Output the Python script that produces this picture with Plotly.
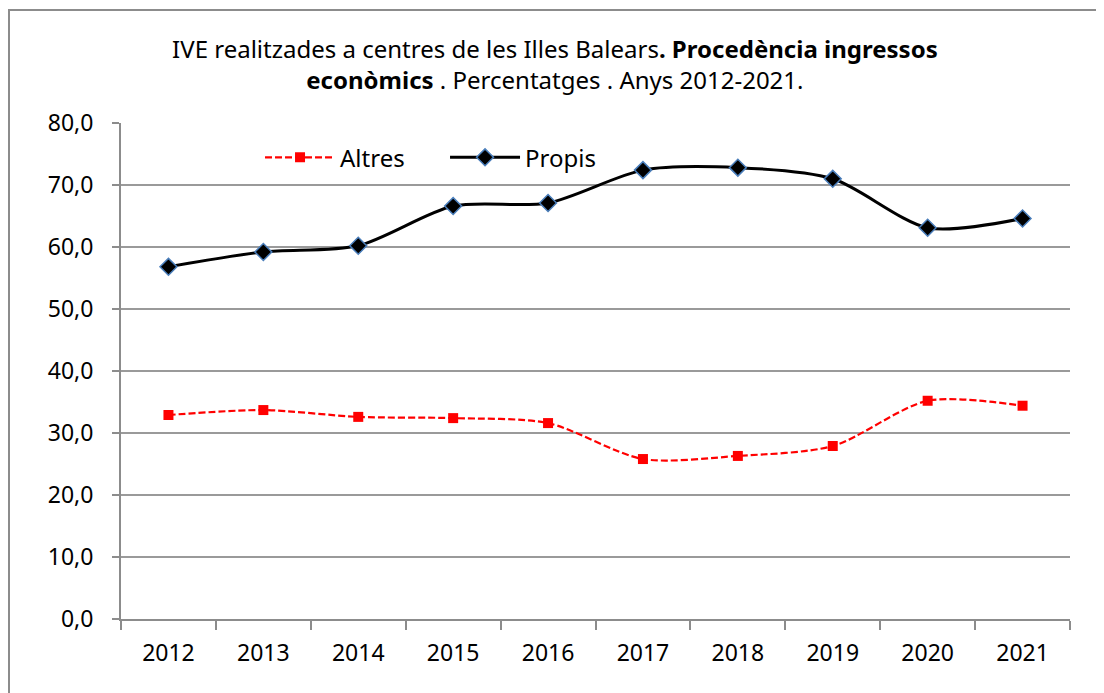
import plotly.graph_objects as go

years = ["2012", "2013", "2014", "2015", "2016", "2017", "2018", "2019", "2020", "2021"]
altres = [32.9, 33.7, 32.6, 32.4, 31.6, 25.8, 26.3, 27.9, 35.2, 34.4]
propis = [56.8, 59.2, 60.2, 66.6, 67.1, 72.4, 72.8, 71.0, 63.1, 64.6]
y_ticks = [0, 10, 20, 30, 40, 50, 60, 70, 80]
y_labels = ["0,0", "10,0", "20,0", "30,0", "40,0", "50,0", "60,0", "70,0", "80,0"]

FONT = "Noto Sans"
W, H = 1096, 685
ML, MT, PW, PH = 113, 115, 949, 496

fig = go.Figure()
fig.add_trace(go.Scatter(
    x=years, y=altres, name="Altres", mode="lines+markers",
    line=dict(color="#ff0000", width=2.2, dash="7px,3px", shape="spline", smoothing=0.8),
    marker=dict(symbol="square", size=10, color="#ff0000", line=dict(width=0)),
))
fig.add_trace(go.Scatter(
    x=years, y=propis, name="Propis", mode="lines+markers",
    line=dict(color="#000000", width=3, shape="spline", smoothing=0.8),
    marker=dict(symbol="diamond", size=13, color="#000000", line=dict(width=1.5, color="#4a7ebb")),
))

fig.update_layout(
    width=W, height=H,
    margin=dict(l=ML, r=W - ML - PW, t=MT, b=H - MT - PH, autoexpand=False),
    paper_bgcolor="white", plot_bgcolor="white",
    font=dict(family=FONT, color="#000000"),
    title=dict(
        text="IVE realitzades a centres de les Illes Balears<b>. Procedència ingressos</b><br><b>econòmics</b> . Percentatges . Anys 2012-2021.",
        x=0.499, xanchor="center", xref="container", y=1 - 50 / H, yanchor="top", yref="container",
        font=dict(family=FONT, size=24, color="#000000"),
    ),
    showlegend=True,
    legend=dict(
        orientation="h", x=0.1465, xanchor="left", y=0.93, yanchor="middle",
        font=dict(family=FONT, size=24, color="#000000"),
        bgcolor="rgba(0,0,0,0)", itemwidth=70, entrywidth=100, entrywidthmode="pixels",
        tracegroupgap=0,
    ),
    xaxis=dict(
        type="category", range=[-0.5, 9.5], tickson="boundaries",
        ticks="outside", ticklen=9, tickwidth=2, tickcolor="#8c8c8c",
        showline=True, linecolor="#8c8c8c", linewidth=2,
        showgrid=False, zeroline=False, ticklabelstandoff=12,
        tickfont=dict(family=FONT, size=23, color="#000000"),
    ),
    yaxis=dict(
        range=[0, 80], tickvals=y_ticks, ticktext=y_labels,
        ticks="outside", ticklen=7, tickwidth=2, tickcolor="#8c8c8c",
        showline=True, linecolor="#8c8c8c", linewidth=2,
        showgrid=True, gridcolor="#9a9a9a", gridwidth=1.5, zeroline=False,
        ticklabelstandoff=14,
        tickfont=dict(family=FONT, size=23, color="#000000"),
    ),
)

fig.add_shape(type="rect", xref="paper", yref="paper",
              x0=(1 - ML) / PW, x1=(1095 - ML) / PW, y0=-0.3, y1=(MT + PH - 2) / PH,
              line=dict(color="#8c8c8c", width=2), fillcolor="rgba(0,0,0,0)", layer="below")

fig.write_html("out.html")
